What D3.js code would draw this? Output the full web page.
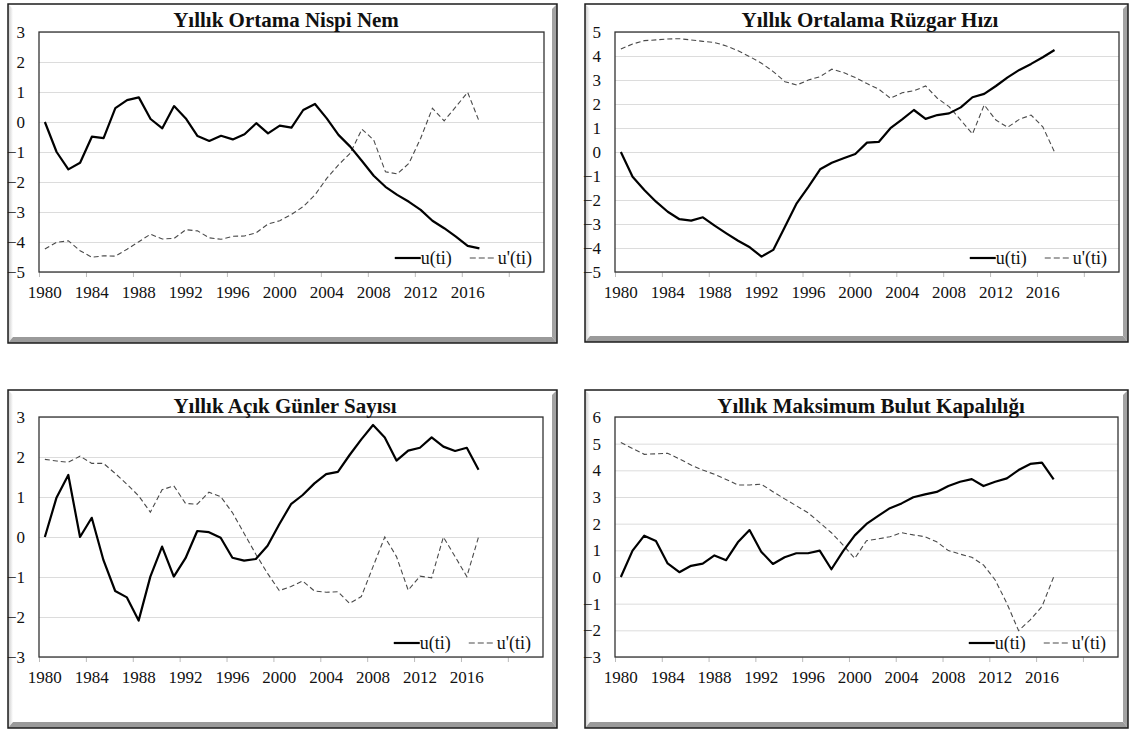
<!DOCTYPE html>
<html>
<head>
<meta charset="utf-8">
<script src="https://cdnjs.cloudflare.com/ajax/libs/d3/7.8.5/d3.min.js"></script>
<style>
  body { margin: 0; background: #fff; }
  svg text { font-family: "Times New Roman", "Liberation Serif", serif; fill: #111; }
</style>
</head>
<body>
<div id="vis"></div>
<script>
// categories (x axis): 1980-2017, then 5 empty slots like the Excel axis
var years = [1980, 1981, 1982, 1983, 1984, 1985, 1986, 1987, 1988, 1989,
             1990, 1991, 1992, 1993, 1994, 1995, 1996, 1997, 1998, 1999,
             2000, 2001, 2002, 2003, 2004, 2005, 2006, 2007, 2008, 2009,
             2010, 2011, 2012, 2013, 2014, 2015, 2016, 2017];
var blankSlots = 5;

// Yillik Ortama Nispi Nem
var nemU  = [0, -1.0, -1.58, -1.36, -0.49, -0.54, 0.46, 0.73, 0.82, 0.1,
             -0.21, 0.53, 0.12, -0.47, -0.63, -0.46, -0.58, -0.41, -0.04, -0.38,
             -0.12, -0.19, 0.4, 0.6, 0.12, -0.43, -0.82, -1.3, -1.79, -2.16,
             -2.43, -2.66, -2.93, -3.29, -3.54, -3.82, -4.13, -4.21];
var nemUp = [-4.23, -4.01, -3.96, -4.29, -4.51, -4.46, -4.47, -4.24, -3.99, -3.74,
             -3.9, -3.88, -3.59, -3.63, -3.86, -3.91, -3.81, -3.8, -3.69, -3.4,
             -3.29, -3.08, -2.82, -2.43, -1.88, -1.43, -1.04, -0.24, -0.6, -1.66,
             -1.73, -1.38, -0.54, 0.46, 0.04, 0.51, 0.99, 0];

// Yillik Ortalama Ruzgar Hizi
var ruzgarU  = [0, -1.03, -1.58, -2.07, -2.49, -2.8, -2.86, -2.72, -3.07, -3.39,
                -3.7, -3.97, -4.36, -4.08, -3.11, -2.14, -1.45, -0.72, -0.45, -0.26,
                -0.08, 0.39, 0.42, 0.99, 1.36, 1.75, 1.38, 1.54, 1.61, 1.86,
                2.28, 2.42, 2.75, 3.11, 3.42, 3.67, 3.95, 4.25];
var ruzgarUp = [4.29, 4.5, 4.64, 4.67, 4.71, 4.72, 4.67, 4.61, 4.56, 4.42,
                4.22, 3.97, 3.7, 3.35, 2.93, 2.79, 3.0, 3.14, 3.45, 3.31,
                3.1, 2.85, 2.62, 2.24, 2.47, 2.55, 2.75, 2.24, 1.89, 1.33,
                0.75, 1.96, 1.33, 1.03, 1.36, 1.54, 1.05, 0];

// Yillik Acik Gunler Sayisi
var acikU  = [0, 0.99, 1.55, 0, 0.48, -0.58, -1.35, -1.51, -2.09, -0.99,
              -0.24, -0.99, -0.53, 0.15, 0.12, -0.02, -0.52, -0.59, -0.55, -0.22,
              0.32, 0.82, 1.05, 1.34, 1.57, 1.63, 2.05, 2.44, 2.8, 2.49,
              1.91, 2.16, 2.23, 2.49, 2.26, 2.15, 2.23, 1.68];
var acikUp = [1.94, 1.9, 1.87, 2.02, 1.84, 1.84, 1.59, 1.32, 1.03, 0.62,
              1.18, 1.28, 0.84, 0.82, 1.12, 1.01, 0.61, 0.09, -0.43, -0.91,
              -1.34, -1.24, -1.1, -1.35, -1.38, -1.37, -1.66, -1.49, -0.74, 0,
              -0.49, -1.33, -0.98, -1.02, 0, -0.49, -0.99, 0];

// Yillik Maksimum Bulut Kapaliligi
var bulutU  = [0, 0.99, 1.55, 1.35, 0.51, 0.18, 0.42, 0.5, 0.81, 0.63,
               1.3, 1.76, 0.95, 0.49, 0.74, 0.89, 0.89, 0.99, 0.29, 0.97,
               1.56, 1.99, 2.29, 2.58, 2.76, 2.99, 3.1, 3.19, 3.41, 3.57,
               3.67, 3.41, 3.57, 3.7, 4.01, 4.24, 4.29, 3.66];
var bulutUp = [5.04, 4.82, 4.6, 4.62, 4.64, 4.43, 4.2, 4.01, 3.85, 3.66,
               3.45, 3.45, 3.48, 3.2, 2.93, 2.67, 2.41, 2.04, 1.66, 1.2,
               0.7, 1.36, 1.43, 1.51, 1.66, 1.58, 1.51, 1.32, 0.99, 0.86,
               0.74, 0.45, -0.11, -0.99, -2.01, -1.61, -1.11, 0];

var titles = ["Yıllık Ortama Nispi Nem", "Yıllık Ortalama Rüzgar Hızı",
              "Yıllık Açık Günler Sayısı", "Yıllık Maksimum Bulut Kapalılığı"];
var yRanges = [[-5, 3], [-5, 5], [-3, 3], [-3, 6]];
var legendNames = ["u(ti)", "u'(ti)"];

var panels = [
  {title: titles[0], u: nemU,    up: nemUp,    y: yRanges[0]},
  {title: titles[1], u: ruzgarU, up: ruzgarUp, y: yRanges[1]},
  {title: titles[2], u: acikU,   up: acikUp,   y: yRanges[2]},
  {title: titles[3], u: bulutU,  up: bulutUp,  y: yRanges[3]}
];

// layout: outer frame + plot area per panel
var layout = [
  {ox: 8,   oy: 4,   ow: 549, oh: 339, px: 39,  py: 32,  pw: 505, ph: 240, tx: 286},
  {ox: 585, oy: 4,   ow: 543, oh: 338, px: 615, py: 32,  pw: 504, ph: 240, tx: 870},
  {ox: 8,   oy: 390, ow: 549, oh: 338, px: 39,  py: 417, pw: 504, ph: 240, tx: 285},
  {ox: 585, oy: 390, ow: 543, oh: 338, px: 615, py: 417, pw: 503, ph: 240, tx: 871}
];

var nCats = years.length + blankSlots;
var serif = "'Times New Roman','Liberation Serif',serif";

var svg = d3.select("#vis")
  .append("svg")
  .attr("width", 1131)
  .attr("height", 731);

var defs = svg.append("defs");
var lg = defs.append("linearGradient").attr("id", "leftBevel")
  .attr("x1", 0).attr("x2", 1).attr("y1", 0).attr("y2", 0);
lg.append("stop").attr("offset", 0).attr("stop-color", "#c8c8c8");
lg.append("stop").attr("offset", 1).attr("stop-color", "#ffffff");

panels.forEach(function(p, k) {
  var L = layout[k];
  var g = svg.append("g").attr("class", "panel");

  // frame with bevel
  g.append("rect")
    .attr("x", L.ox).attr("y", L.oy)
    .attr("width", L.ow).attr("height", L.oh)
    .attr("fill", "#fff");
  g.append("polygon")
    .attr("points", [[L.ox, L.oy], [L.ox + 5, L.oy + 5], [L.ox + 5, L.oy + L.oh - 6], [L.ox, L.oy + L.oh]].join(" "))
    .attr("fill", "url(#leftBevel)");
  g.append("polygon")
    .attr("points", [[L.ox + L.ow, L.oy], [L.ox + L.ow - 5, L.oy + 5], [L.ox + L.ow - 5, L.oy + L.oh - 6], [L.ox + L.ow, L.oy + L.oh]].join(" "))
    .attr("fill", "#a3a3a3");
  g.append("polygon")
    .attr("points", [[L.ox, L.oy + L.oh], [L.ox + 5, L.oy + L.oh - 6], [L.ox + L.ow - 5, L.oy + L.oh - 6], [L.ox + L.ow, L.oy + L.oh]].join(" "))
    .attr("fill", "#9a9a9a");
  g.append("rect")
    .attr("x", L.ox).attr("y", L.oy)
    .attr("width", L.ow).attr("height", L.oh)
    .attr("fill", "none")
    .attr("stroke", "#1c1c1c")
    .attr("stroke-width", 1.5);

  var x = d3.scaleBand()
    .domain(d3.range(nCats))
    .range([L.px, L.px + L.pw]);
  var xEdge = d3.scaleLinear()
    .domain([0, nCats])
    .range([L.px, L.px + L.pw]);
  var y = d3.scaleLinear()
    .domain(p.y)
    .range([L.py + L.ph, L.py]);
  var yTicks = d3.range(p.y[0], p.y[1] + 1);

  // gridlines
  g.append("g")
    .attr("transform", "translate(" + L.px + ",0)")
    .call(d3.axisLeft(y).tickValues(yTicks).tickSize(-L.pw).tickFormat(""))
    .call(function(a) {
      a.select(".domain").remove();
      a.selectAll("line").attr("stroke", "#dcdcdc").attr("stroke-width", 1);
    });

  // y labels
  g.append("g")
    .attr("transform", "translate(" + L.px + ",0)")
    .call(d3.axisLeft(y).tickValues(yTicks).tickSize(0).tickPadding(14).tickFormat(d3.format("d")))
    .call(function(a) {
      a.select(".domain").remove();
      a.selectAll("text").style("font-size", "17px")
        .style("font-family", serif).attr("fill", "#111");
    });

  // x ticks between categories
  var tickIdx = d3.range(0, nCats, 4);
  g.append("g")
    .attr("transform", "translate(0," + (L.py + L.ph) + ")")
    .call(d3.axisBottom(xEdge).tickValues(tickIdx).tickSize(5).tickFormat(""))
    .call(function(a) {
      a.select(".domain").remove();
      a.selectAll("line").attr("stroke", "#bbb");
    });

  // x labels
  g.append("g")
    .attr("transform", "translate(0," + (L.py + L.ph) + ")")
    .call(d3.axisBottom(x)
      .tickValues(tickIdx.filter(function(i) { return i < years.length; }))
      .tickSize(0).tickPadding(14)
      .tickFormat(function(i) { return years[i]; }))
    .call(function(a) {
      a.select(".domain").remove();
      a.selectAll("text").style("font-size", "17px")
        .style("font-family", serif).attr("fill", "#111");
    });

  // plot area border
  g.append("rect")
    .attr("x", L.px).attr("y", L.py)
    .attr("width", L.pw).attr("height", L.ph)
    .attr("fill", "none")
    .attr("stroke", "#333")
    .attr("stroke-width", 1.3);

  var line = d3.line()
    .x(function(d, i) { return x(i) + x.bandwidth() / 2; })
    .y(function(d) { return y(d); });

  g.append("path")
    .datum(p.up)
    .attr("d", line)
    .attr("fill", "none")
    .attr("stroke", "#4a4a4a")
    .attr("stroke-width", 1.1)
    .attr("stroke-dasharray", "5,3");

  g.append("path")
    .datum(p.u)
    .attr("d", line)
    .attr("fill", "none")
    .attr("stroke", "#000")
    .attr("stroke-width", 2.2)
    .attr("stroke-linejoin", "round");

  // title
  g.append("text")
    .attr("x", L.tx)
    .attr("y", L.oy + 23)
    .attr("text-anchor", "middle")
    .style("font-size", "21px")
    .style("font-weight", "bold")
    .text(p.title);

  // legend, built from the right
  var ly = L.py + L.ph - 14;
  var leg = g.append("g").attr("class", "legend");
  var t2 = leg.append("text")
    .attr("y", ly).attr("dy", "0.35em")
    .attr("text-anchor", "end")
    .attr("x", L.px + L.pw - 12)
    .style("font-size", "18px")
    .text(legendNames[1]);
  var w2 = t2.node().getComputedTextLength();
  var x2 = L.px + L.pw - 12 - w2;
  leg.append("line")
    .attr("x1", x2 - 28).attr("x2", x2 - 1)
    .attr("y1", ly).attr("y2", ly)
    .attr("stroke", "#4a4a4a").attr("stroke-width", 1.1)
    .attr("stroke-dasharray", "6,3");
  var t1 = leg.append("text")
    .attr("y", ly).attr("dy", "0.35em")
    .attr("text-anchor", "end")
    .attr("x", x2 - 46)
    .style("font-size", "18px")
    .text(legendNames[0]);
  var w1 = t1.node().getComputedTextLength();
  var x1 = x2 - 46 - w1;
  leg.append("line")
    .attr("x1", x1 - 26).attr("x2", x1)
    .attr("y1", ly).attr("y2", ly)
    .attr("stroke", "#000").attr("stroke-width", 2.2);
});
</script>
</body>
</html>
